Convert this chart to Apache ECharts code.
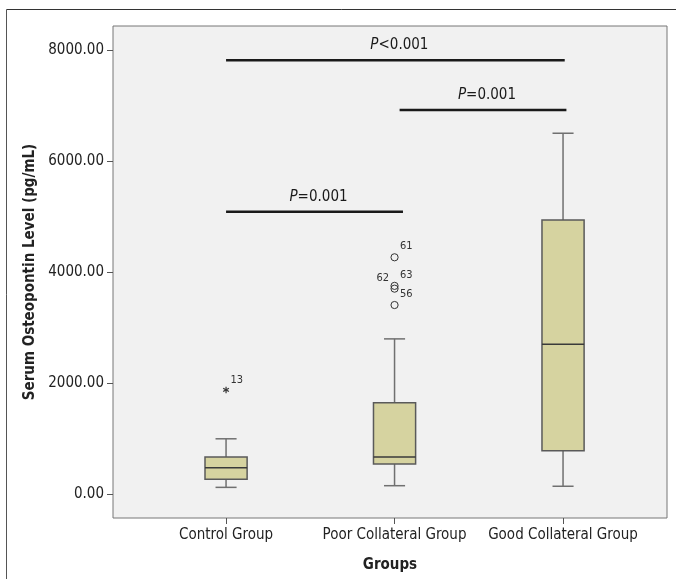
<!DOCTYPE html>
<html>
<head>
<meta charset="utf-8">
<script src="https://cdn.jsdelivr.net/npm/echarts@6/dist/echarts.min.js"></script>
<style>html,body{margin:0;padding:0;background:#fff;}#c{width:676px;height:579px;}</style>
</head>
<body>
<div id="c"></div>
<script>
const categories = ['Control Group', 'Poor Collateral Group', 'Good Collateral Group'];
const boxMin = [120, 150, 140];
const boxQ1 = [265, 540, 780];
const boxMedian = [475, 665, 2700];
const boxQ3 = [665, 1645, 4935];
const boxMax = [995, 2795, 6500];

const outlierGroup = [0, 1, 1, 1, 1];
const outlierValue = [1875, 4265, 3750, 3700, 3405];
const outlierLabel = ['13', '61', '63', '62', '56'];
const outlierKind = ['extreme', 'outlier', 'outlier', 'outlier', 'outlier'];
const outlierSide = ['right', 'right', 'right', 'left', 'right'];

const sigFrom = [0, 1.03, 0];
const sigTo = [2.01, 2.02, 1.05];
const sigY = [7815, 6920, 5085];
const sigText = ['<0.001', '=0.001', '=0.001'];

const yTicks = [0, 2000, 4000, 6000, 8000];

const FONT = "'Liberation Sans Narrow', 'DejaVu Sans Condensed', sans-serif";

const boxData = categories.map((c, i) => [i, boxMin[i], boxQ1[i], boxMedian[i], boxQ3[i], boxMax[i]]);
const outData = outlierGroup.map((g, i) => [g, outlierValue[i], outlierLabel[i], outlierKind[i], outlierSide[i]]);
const sigData = sigFrom.map((f, i) => [f, sigTo[i], sigY[i], sigText[i]]);

const chart = echarts.init(document.getElementById('c'), null, {renderer: 'canvas'});

function renderBox(params, api) {
  const x = api.value(0);
  const cx = api.coord([x, 0])[0];
  const half = (api.coord([x + 0.125, 0])[0] - api.coord([x - 0.125, 0])[0]) / 2;
  const capHalf = half / 2;
  const yMin = api.coord([x, api.value(1)])[1];
  const yQ1 = api.coord([x, api.value(2)])[1];
  const yMed = api.coord([x, api.value(3)])[1];
  const yQ3 = api.coord([x, api.value(4)])[1];
  const yMax = api.coord([x, api.value(5)])[1];
  const wStyle = {stroke: '#707070', lineWidth: 1.5};
  return {
    type: 'group',
    children: [
      {type: 'line', shape: {x1: cx, y1: yMax, x2: cx, y2: yQ3}, style: wStyle},
      {type: 'line', shape: {x1: cx, y1: yQ1, x2: cx, y2: yMin}, style: wStyle},
      {type: 'line', shape: {x1: cx - capHalf, y1: yMax, x2: cx + capHalf, y2: yMax}, style: wStyle},
      {type: 'line', shape: {x1: cx - capHalf, y1: yMin, x2: cx + capHalf, y2: yMin}, style: wStyle},
      {type: 'rect', shape: {x: cx - half, y: yQ3, width: half * 2, height: yQ1 - yQ3},
        style: {fill: '#d6d3a0', stroke: '#5a5a5a', lineWidth: 1.5}},
      {type: 'line', shape: {x1: cx - half, y1: yMed, x2: cx + half, y2: yMed}, style: {stroke: '#3a3a3a', lineWidth: 1.5}}
    ]
  };
}

function renderOutlier(params, api) {
  const p = api.coord([api.value(0), api.value(1)]);
  const label = api.value(2);
  const kind = api.value(3);
  const side = api.value(4);
  const children = [];
  if (kind === 'outlier') {
    children.push({type: 'circle', shape: {cx: p[0], cy: p[1], r: 3.6},
      style: {fill: 'none', stroke: '#333', lineWidth: 1}});
  } else {
    const r = 3.3;
    for (let k = 0; k < 3; k++) {
      const a = Math.PI / 2 + k * Math.PI / 3;
      children.push({type: 'line', shape: {x1: p[0] - r * Math.cos(a), y1: p[1] - r * Math.sin(a), x2: p[0] + r * Math.cos(a), y2: p[1] + r * Math.sin(a)},
        style: {stroke: '#333', lineWidth: 1.2}});
    }
  }
  const right = side === 'right';
  children.push({type: 'text', x: kind === 'outlier' ? (right ? p[0] + 5.5 : p[0] - 5.5) : p[0] + 4.5, y: p[1] - (kind === 'outlier' ? 11 : 9.5),
    style: {text: label, fill: '#333', font: '11px ' + FONT, align: right ? 'left' : 'right', verticalAlign: 'middle'}});
  return {type: 'group', children: children};
}

function renderSig(params, api) {
  const y = api.value(2);
  const p1 = api.coord([api.value(0), y]);
  const p2 = api.coord([api.value(1), y]);
  const mid = (p1[0] + p2[0]) / 2 + 4;
  return {
    type: 'group',
    children: [
      {type: 'line', shape: {x1: p1[0], y1: p1[1], x2: p2[0], y2: p2[1]}, style: {stroke: '#1a1a1a', lineWidth: 2.5}},
      {type: 'text', x: mid, y: p1[1] - 15,
        style: {text: '{i|P}{n|' + api.value(3) + '}', align: 'center', verticalAlign: 'middle',
          rich: {i: {font: 'italic 15px ' + FONT, fill: '#1a1a1a'}, n: {font: '15px ' + FONT, fill: '#1a1a1a'}}}}
    ]
  };
}

chart.setOption({
  animation: false,
  backgroundColor: '#ffffff',
  textStyle: {fontFamily: FONT},
  grid: {left: 113, top: 26, right: 9, bottom: 61, show: true, backgroundColor: '#f1f1f1', borderColor: '#777', borderWidth: 1},
  graphic: [
    {type: 'line', shape: {x1: 6.5, y1: 9.5, x2: 676, y2: 9.5}, style: {stroke: '#333', lineWidth: 1}, silent: true},
    {type: 'line', shape: {x1: 6.5, y1: 9.5, x2: 6.5, y2: 579}, style: {stroke: '#555', lineWidth: 1}, silent: true}
  ],
  xAxis: {
    type: 'value', min: -0.671, max: 2.617,
    name: 'Groups', nameLocation: 'middle', nameGap: 40,
    nameTextStyle: {fontFamily: FONT, fontSize: 15, fontWeight: 'bold', color: '#222'},
    axisLine: {show: false, onZero: false},
    splitLine: {show: false},
    axisTick: {show: true, length: 6, customValues: [0, 1, 2], lineStyle: {color: '#555'}},
    axisLabel: {customValues: [0, 1, 2], formatter: v => categories[Math.round(v)] || '', margin: 10,
      fontFamily: FONT, fontSize: 15, color: '#222'}
  },
  yAxis: {
    type: 'value', min: -432, max: 8432,
    name: 'Serum Osteopontin Level (pg/mL)', nameLocation: 'middle', nameGap: 67,
    nameTextStyle: {fontFamily: FONT, fontSize: 15, fontWeight: 'bold', color: '#222'},
    axisLine: {show: false, onZero: false},
    splitLine: {show: false},
    axisTick: {show: true, length: 6, customValues: yTicks, lineStyle: {color: '#555'}},
    axisLabel: {customValues: yTicks, formatter: v => v.toFixed(2), margin: 9,
      fontFamily: FONT, fontSize: 15, color: '#222'}
  },
  series: [
    {type: 'custom', renderItem: renderBox, data: boxData, encode: {x: 0, y: [1, 2, 3, 4, 5]}, clip: false},
    {type: 'custom', renderItem: renderOutlier, data: outData, encode: {x: 0, y: 1}, clip: false},
    {type: 'custom', renderItem: renderSig, data: sigData, encode: {x: [0, 1], y: 2}, clip: false}
  ]
});
</script>
</body>
</html>
